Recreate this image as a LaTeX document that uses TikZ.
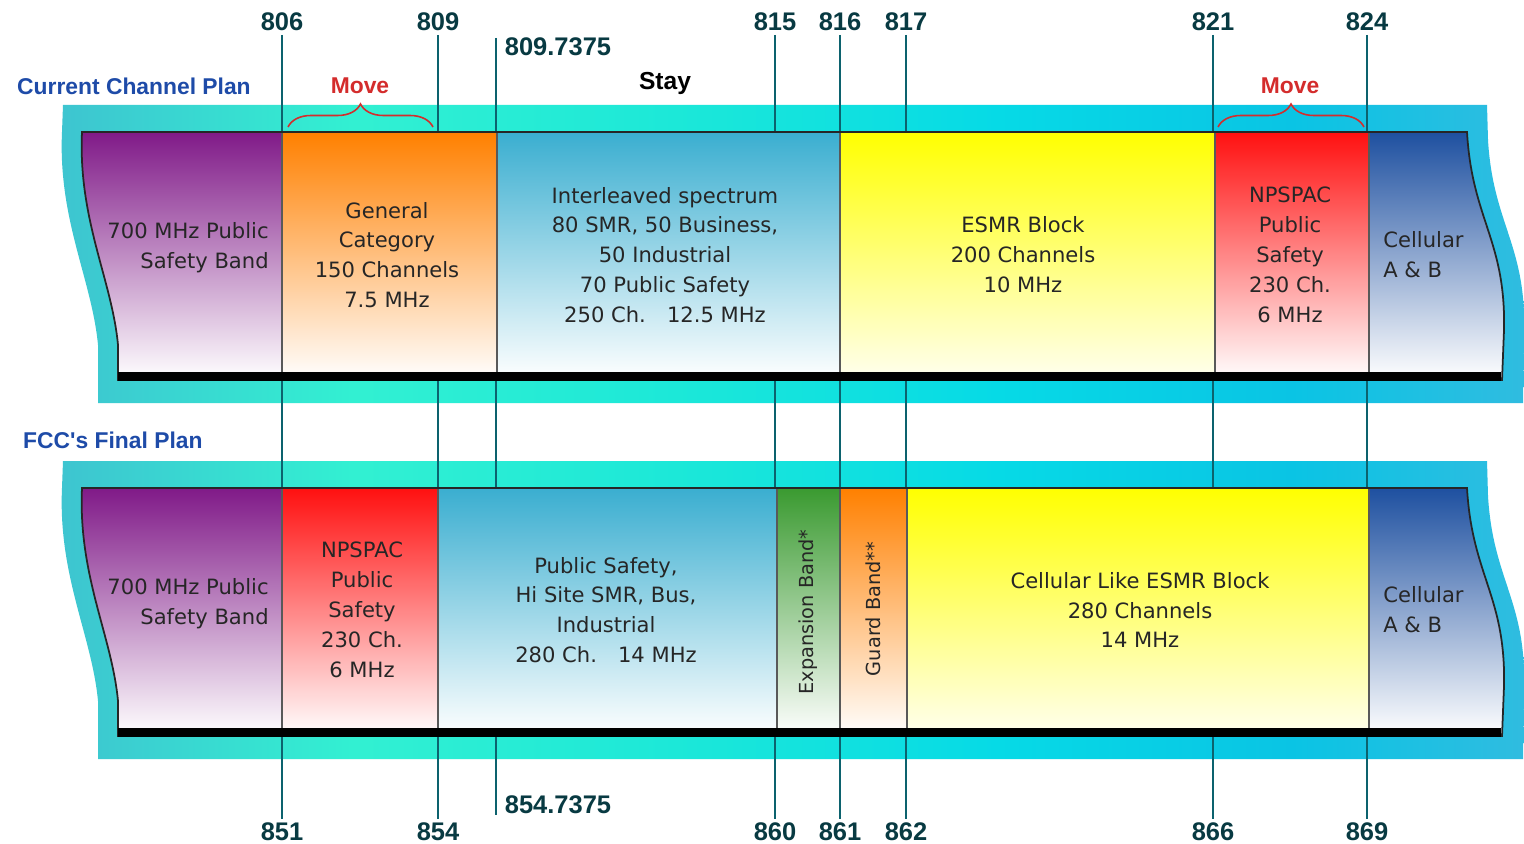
\documentclass[tikz,border=0pt]{standalone}
\usepackage{fontspec}
\setmainfont{DejaVu Sans}
\newfontfamily\labelfont{Liberation Sans}
\usetikzlibrary{decorations.pathreplacing}

\definecolor{tickc}{RGB}{12,98,110}
\definecolor{numc}{RGB}{8,58,66}
\definecolor{planc}{RGB}{30,75,168}
\definecolor{movec}{RGB}{212,44,44}
\definecolor{cpurple}{RGB}{128,26,136}
\definecolor{corange}{RGB}{255,128,0}
\definecolor{clblue}{RGB}{58,174,208}
\definecolor{cyellow}{RGB}{255,255,0}
\definecolor{cred}{RGB}{255,16,16}
\definecolor{cdblue}{RGB}{30,80,160}
\definecolor{cgreen}{RGB}{58,154,48}
\definecolor{cyA}{RGB}{62,196,208}
\definecolor{cyB}{RGB}{50,240,210}
\definecolor{cyC}{RGB}{28,232,216}
\definecolor{cyD}{RGB}{6,218,230}
\definecolor{cyE}{RGB}{10,196,228}
\definecolor{cyF}{RGB}{48,188,224}

\pgfdeclarehorizontalshading{cyanband}{100bp}{color(0bp)=(cyA); color(25bp)=(cyA);
  color(35bp)=(cyB); color(46bp)=(cyC); color(57bp)=(cyD); color(67bp)=(cyE);
  color(75bp)=(cyF); color(100bp)=(cyF)}

% outline of one band, top row coordinates
\newcommand\bandpath{(82,132) -- (1467,132) .. controls (1472,220) and (1506,240) .. (1504,330)
  -- (1502,380) -- (118,380) -- (118,345) .. controls (112,280) and (78,220) .. (82,132) -- cycle}
\newcommand\cyanpath{(63,105) -- (1487,105) -- (1488,140) .. controls (1493,225) and (1527,245) .. (1524,335)
  -- (1523,403) -- (98,403) -- (98,345) .. controls (92,280) and (58,220) .. (62,132) -- cycle}

\begin{document}
\begin{tikzpicture}[x=0.02cm, y=-0.02cm,
    cell/.style={align=center, font=\fontsize{12}{17}\selectfont, text=black!85, inner sep=0pt},
    slim/.style={cell, rotate=90, font=\fontsize{11}{13}\selectfont},
    mhz/.style={font=\labelfont\bfseries\fontsize{14.5}{16}\selectfont, text=numc, inner sep=2pt},
    plan/.style={font=\labelfont\bfseries\fontsize{13}{15}\selectfont, text=planc, anchor=west},
    move/.style={font=\labelfont\bfseries\fontsize{13}{15}\selectfont, text=movec},
    tick/.style={draw=tickc, line width=1.6pt},
    divider/.style={draw=black!65, line width=1.1pt},
    bandedge/.style={draw=black!85, line width=1pt},
    bracepath/.style={decorate, decoration={brace, amplitude=0.46cm}, draw=movec, line width=0.9pt}
  ]
  \useasboundingbox[fill=white] (0,0) rectangle (1524,844);

  % cyan backdrops
  \shade[shading=cyanband] \cyanpath;
  \shade[shading=cyanband, shift={(0,356)}] \cyanpath;

  % frequency marks
  \foreach \x/\up/\dn in {282/806/851, 438/809/854, 775/815/860, 840/816/861,
                          906/817/862, 1213/821/866, 1367/824/869} {
    \node[mhz] (t\up) at (\x,22) {\up};
    \node[mhz] (b\dn) at (\x,832) {\dn};
    \draw[tick] (t\up.south) -- (b\dn.north);
  }
  \coordinate (stayTop) at (496,38);
  \coordinate (stayBot) at (496,815);
  \draw[tick] (stayTop) -- (stayBot);
  \node[mhz, anchor=west] (t8097) at (501,47) {809.7375};
  \node[mhz, anchor=west] (b8547) at (501,805) {854.7375};

  % titles
  \node[plan] (curPlan) at (11,86) {Current Channel Plan};
  \node[plan] (finPlan) at (17,440) {FCC's Final Plan};
  \node[move, text=black, font=\labelfont\bfseries\fontsize{14}{16}\selectfont] (stay) at (665,83) {Stay};
  \node[move] (moveL) at (360,86) {Move};
  \node[move] (moveR) at (1290,86) {Move};
  \coordinate (mvLa) at (288,127);
  \coordinate (mvLb) at (433,127);
  \coordinate (mvRa) at (1218,127);
  \coordinate (mvRb) at (1364,127);
  \draw[bracepath] (mvLa) -- (mvLb);
  \draw[bracepath] (mvRa) -- (mvRb);

  % current plan
  \begin{scope}
    \clip \bandpath;
    \shade[top color=cpurple, bottom color=white] (60,132) rectangle (282,380);
    \shade[top color=corange, bottom color=white] (282,132) rectangle (497,380);
    \shade[top color=clblue, bottom color=white] (497,132) rectangle (840,380);
    \shade[top color=cyellow, bottom color=cyellow!6] (840,132) rectangle (1215,380);
    \shade[top color=cred, bottom color=white] (1215,132) rectangle (1369,380);
    \shade[top color=cdblue, bottom color=white] (1369,132) rectangle (1530,380);
  \end{scope}
  \foreach \x in {282,497,840,1215,1369}
    \draw[divider] (\x,132) -- (\x,374);
  \draw[bandedge] \bandpath;
  \fill[black] (118,372) rectangle (1501,381);
  \node[cell, align=right, anchor=east] (curPS) at (269,248) {700 MHz Public\\Safety Band};
  \node[cell] (curGen) at (387,255) {General\\Category\\150 Channels\\7.5 MHz};
  \node[cell] (curInt) at (665,255) {Interleaved spectrum\\80 SMR, 50 Business,\\50 Industrial\\70 Public Safety\\250 Ch.\quad 12.5 MHz};
  \node[cell] (curESMR) at (1023,255) {ESMR Block\\200 Channels\\10 MHz};
  \node[cell] (curNPS) at (1290,255) {NPSPAC\\Public\\Safety\\230 Ch.\\6 MHz};
  \node[cell, align=left, anchor=west] (curCell) at (1383,255) {Cellular\\A \& B};

  % final plan
  \begin{scope}[shift={(0,356)}]
    \begin{scope}
      \clip \bandpath;
      \shade[top color=cpurple, bottom color=white] (60,132) rectangle (282,380);
      \shade[top color=cred, bottom color=white] (282,132) rectangle (438,380);
      \shade[top color=clblue, bottom color=white] (438,132) rectangle (777,380);
      \shade[top color=cgreen, bottom color=white] (777,132) rectangle (840,380);
      \shade[top color=corange, bottom color=white] (840,132) rectangle (907,380);
      \shade[top color=cyellow, bottom color=cyellow!6] (907,132) rectangle (1369,380);
      \shade[top color=cdblue, bottom color=white] (1369,132) rectangle (1530,380);
    \end{scope}
    \foreach \x in {282,438,777,840,907,1369}
      \draw[divider] (\x,132) -- (\x,374);
    \draw[bandedge] \bandpath;
    \fill[black] (118,372) rectangle (1501,381);
    \node[cell, align=right, anchor=east] (finPS) at (269,248) {700 MHz Public\\Safety Band};
    \node[cell] (finNPS) at (362,254) {NPSPAC\\Public\\Safety\\230 Ch.\\6 MHz};
    \node[cell] (finPub) at (606,254) {Public Safety,\\Hi Site SMR, Bus,\\Industrial\\280 Ch.\quad 14 MHz};
    \node[slim] (finExp) at (808,256) {Expansion Band*};
    \node[slim] (finGuard) at (873,253) {Guard Band**};
    \node[cell] (finESMR) at (1140,254) {Cellular Like ESMR Block\\280 Channels\\14 MHz};
    \node[cell, align=left, anchor=west] (finCell) at (1383,254) {Cellular\\A \& B};
  \end{scope}
\end{tikzpicture}
\end{document}
